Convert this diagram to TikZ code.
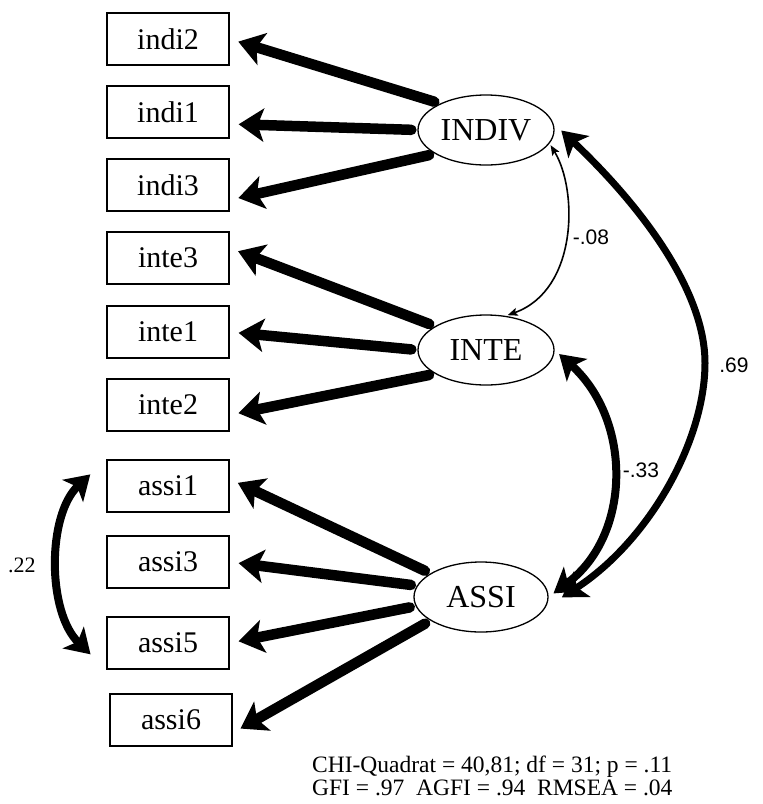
\documentclass[tikz,border=0pt]{standalone}
\usepackage{fontspec}
\setmainfont{Liberation Serif}
\newfontfamily\labfont{Liberation Sans}
\usetikzlibrary{arrows.meta,shapes.geometric}
\begin{document}
\begin{tikzpicture}[x=1pt,y=-1pt,
  obs/.style={draw,line width=1.3pt,minimum width=122pt,minimum height=52pt,inner sep=0pt,font=\fontsize{30}{30}\selectfont},
  lat/.style={draw,ellipse,line width=1.3pt,minimum width=136pt,minimum height=70pt,inner sep=0pt,font=\fontsize{32}{32}\selectfont},
  load/.style={line width=10.5pt,line cap=round,-{Stealth[length=25pt,width=33pt,inset=6pt]},shorten <=6pt,shorten >=9pt},
  covthick/.style={line width=8pt,{Stealth[length=24pt,width=30pt,inset=6pt]}-{Stealth[length=24pt,width=30pt,inset=6pt]}},
  covthin/.style={line width=1.6pt,{Stealth[length=10pt,width=8pt,inset=2pt]}-{Stealth[length=10pt,width=8pt,inset=2pt]}},
  lab/.style={font=\labfont\fontsize{21}{21}\selectfont,inner sep=0pt},
  labserif/.style={font=\fontsize{22}{22}\selectfont,inner sep=0pt}
]
\useasboundingbox (0,0) rectangle (763,804);

% observed variables
\node[obs] (indi2) at (168,39) {indi2};
\node[obs] (indi1) at (168,112) {indi1};
\node[obs] (indi3) at (168,185) {indi3};
\node[obs] (inte3) at (168,258) {inte3};
\node[obs] (inte1) at (168,332) {inte1};
\node[obs] (inte2) at (168,405) {inte2};
\node[obs] (assi1) at (168,486) {assi1};
\node[obs] (assi3) at (168,562) {assi3};
\node[obs] (assi5) at (168,643) {assi5};
\node[obs] (assi6) at (171,720) {assi6};

% latent variables
\node[lat] (INDIV) at (486,130) {INDIV};
\node[lat] (INTE) at (486,350) {INTE};
\node[lat,minimum width=134pt] (ASSI) at (481,597) {ASSI};

% loadings
\draw[load] (INDIV.150) -- (indi2.east);
\draw[load] (INDIV.180) -- ([yshift=-12pt]indi1.east);
\draw[load] (INDIV.205) -- ([yshift=-15pt]indi3.east);
\draw[load] (INTE.155) -- ([yshift=10pt]inte3.east);
\draw[load] (INTE.180) -- (inte1.east);
\draw[load] (INTE.205) -- ([yshift=-10pt]inte2.east);
\draw[load] (ASSI.155) -- ([yshift=7pt]assi1.east);
\draw[load] (ASSI.170) -- (assi3.east);
\draw[load] (ASSI.188) -- (assi5.east);
\draw[load] (ASSI.205) -- ([yshift=-13pt]assi6.east);

% covariances
\draw[covthin,shorten <=2pt,shorten >=2pt] (INDIV.-12) .. controls (578,190) and (578,290) .. (INTE.60);
\draw[covthick,shorten <=6pt,shorten >=6pt] (INTE.east) .. controls (632,420) and (632,535) .. (ASSI.east);
\draw[covthick,line width=7pt,shorten <=11pt,shorten >=20pt] (INDIV.6) .. controls (640,205) and (705,290) .. (705,363) .. controls (705,440) and (650,540) .. (ASSI.-10);
\draw[covthick,shorten <=22pt,shorten >=22pt] (assi1.north west) .. controls (47,515) and (47,612) .. (assi5.south west);

% labels
\node[lab] (l08) at (591,237) {-.08};
\node[lab] (l33) at (641,470) {-.33};
\node[lab] (l69) at (734,365) {.69};
\node[labserif] (l22) at (22,565) {.22};

% fit indices
\node[anchor=west,align=left,inner sep=0pt,font=\fontsize{23.5}{23}\selectfont] (fit) at (312,776)
  {CHI-Quadrat = 40,81; df = 31; p = .11\\GFI = .97\ \ AGFI = .94\ \ RMSEA = .04};
\end{tikzpicture}
\end{document}
